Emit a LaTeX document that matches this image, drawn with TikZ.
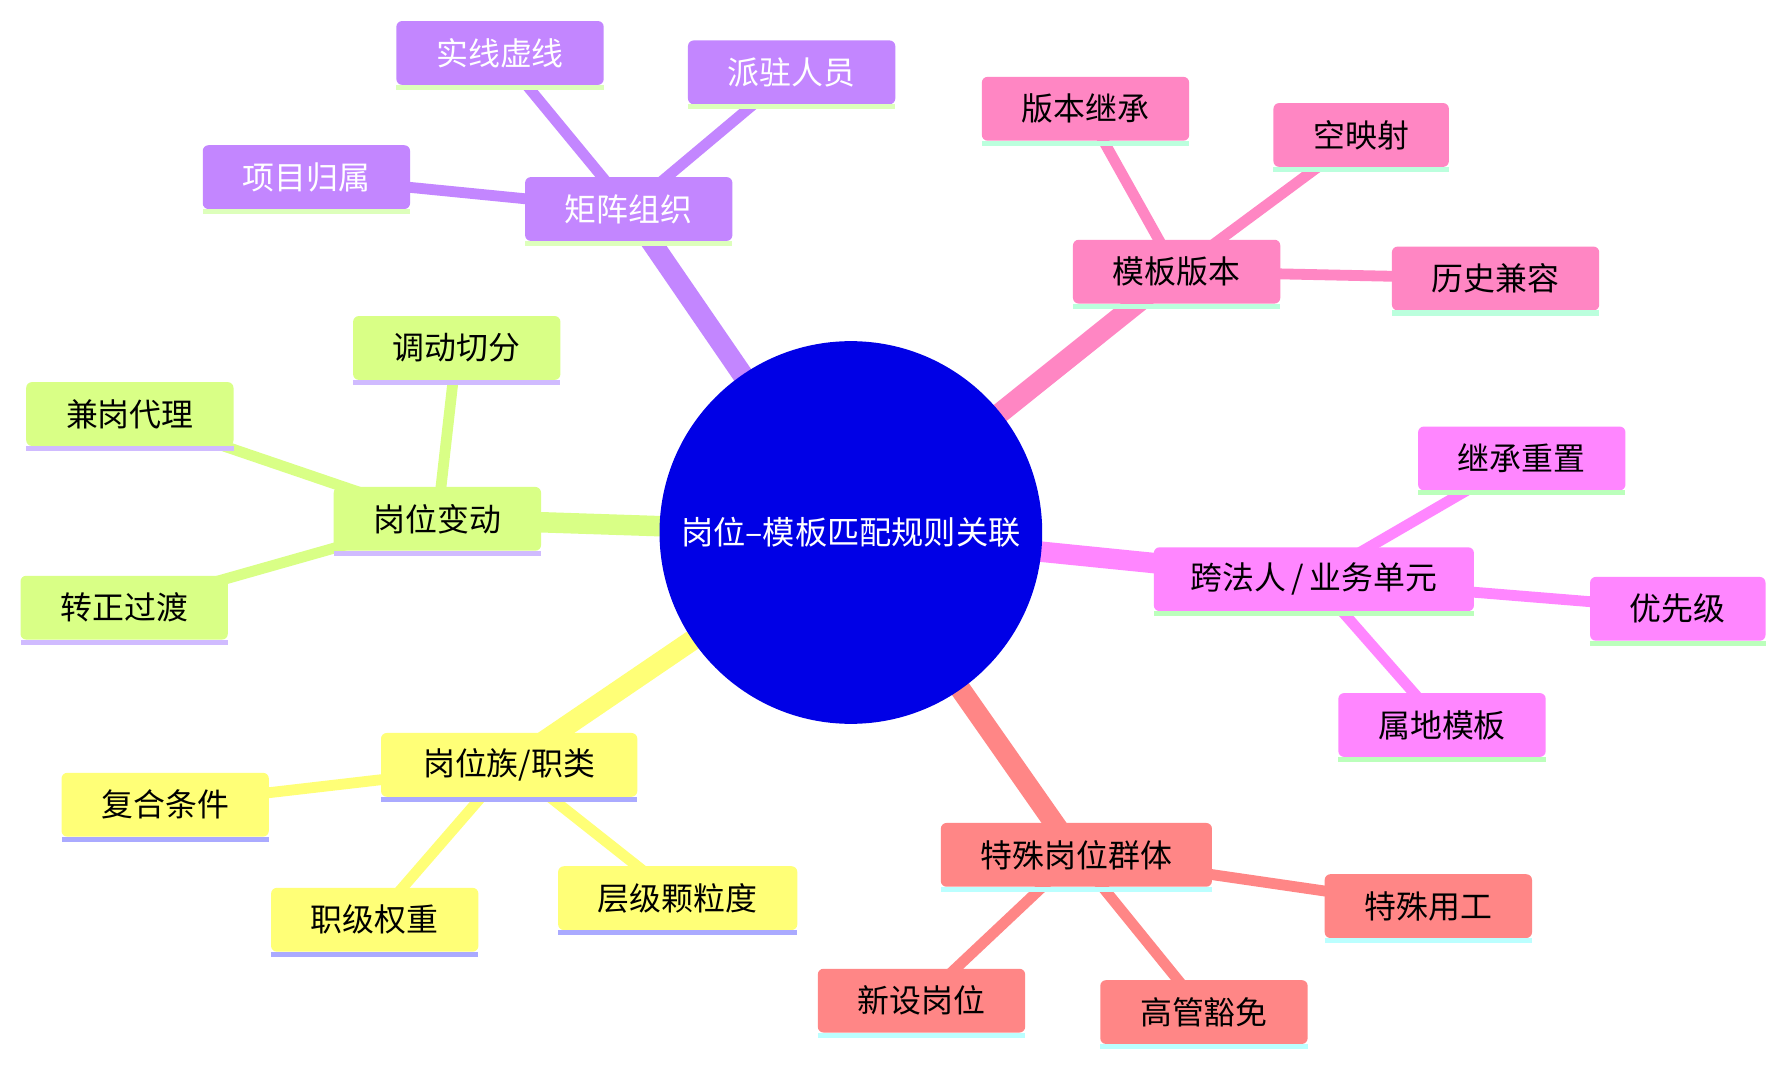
\documentclass[tikz,border=0pt]{standalone}
\usepackage{fontspec}
\setmainfont{Noto Sans CJK SC}
\usetikzlibrary{backgrounds}
\definecolor{croot}{HTML}{0000E6}
\definecolor{cpur}{HTML}{C386FF}
\definecolor{upur}{HTML}{DDFFBB}
\definecolor{cpnk}{HTML}{FF86C3}
\definecolor{upnk}{HTML}{BBFFDD}
\definecolor{cmag}{HTML}{FF86FF}
\definecolor{umag}{HTML}{BBFFBB}
\definecolor{csal}{HTML}{FF8686}
\definecolor{usal}{HTML}{BBFFFF}
\definecolor{cyel}{HTML}{FFFF77}
\definecolor{uyel}{HTML}{AAAAFF}
\definecolor{clim}{HTML}{D9FF86}
\definecolor{ulim}{HTML}{D0BBFF}
\tikzset{
  mmbox/.style={rounded corners=5pt, minimum height=56pt, minimum width=182pt,
    inner sep=0pt, outer sep=0pt, font=\fontsize{28}{32}\selectfont, text=black},
  rootedge/.style={line width=18pt},
  leafedge/.style={line width=9.5pt},
}
\newcommand\ul[2]{\fill[#2] (#1.south west) rectangle ([yshift=-4.5pt]#1.south east);}
\begin{document}
\begin{tikzpicture}[x=1pt,y=-1pt]
\useasboundingbox (0,0) rectangle (1568,936);
% root
\node[circle, fill=croot, minimum size=336pt, inner sep=0pt, text=white,
  font=\fontsize{28.3}{32}\selectfont] (root) at (747,467.5) {岗位–模板匹配规则关联};
% purple
\node[mmbox, fill=cpur, text=white] (mz) at (552,183.5) {矩阵组织};
\node[mmbox, fill=cpur, text=white] (xm) at (269,155.5) {项目归属};
\node[mmbox, fill=cpur, text=white] (sx) at (439,46.5) {实线虚线};
\node[mmbox, fill=cpur, text=white] (pz) at (695,63.5) {派驻人员};
% pink
\node[mmbox, fill=cpnk] (mb) at (1033,238.5) {模板版本};
\node[mmbox, fill=cpnk] (bj) at (953,95.5) {版本继承};
\node[mmbox, fill=cpnk, minimum width=154pt] (ky) at (1195,118.5) {空映射};
\node[mmbox, fill=cpnk] (ls) at (1313,244.5) {历史兼容};
% magenta
\node[mmbox, fill=cmag, minimum width=281pt] (kf) at (1153.5,508.5) {跨法人\,/\,业务单元};
\node[mmbox, fill=cmag] (jc) at (1336,402.5) {继承重置};
\node[mmbox, fill=cmag, minimum width=154pt] (yx) at (1473,534.5) {优先级};
\node[mmbox, fill=cmag] (sd) at (1266,636.5) {属地模板};
% salmon
\node[mmbox, fill=csal, minimum width=238pt] (ts) at (945,750.5) {特殊岗位群体};
\node[mmbox, fill=csal] (ty) at (1254,795.5) {特殊用工};
\node[mmbox, fill=csal] (xs) at (809,878.5) {新设岗位};
\node[mmbox, fill=csal] (gg) at (1057,888.5) {高管豁免};
% yellow
\node[mmbox, fill=cyel, minimum width=225pt] (gz) at (447,671.5) {岗位族/职类};
\node[mmbox, fill=cyel] (fh) at (145,706.5) {复合条件};
\node[mmbox, fill=cyel] (zj) at (329,807.5) {职级权重};
\node[mmbox, fill=cyel, minimum width=210pt] (cj) at (595,788.5) {层级颗粒度};
% lime
\node[mmbox, fill=clim] (gb) at (384,455.5) {岗位变动};
\node[mmbox, fill=clim] (dd) at (401,305.5) {调动切分};
\node[mmbox, fill=clim] (jg) at (114,363.5) {兼岗代理};
\node[mmbox, fill=clim] (zz) at (109,533.5) {转正过渡};
% underlines
\ul{mz}{upur}\ul{xm}{upur}\ul{sx}{upur}\ul{pz}{upur}
\ul{mb}{upnk}\ul{bj}{upnk}\ul{ky}{upnk}\ul{ls}{upnk}
\ul{kf}{umag}\ul{jc}{umag}\ul{yx}{umag}\ul{sd}{umag}
\ul{ts}{usal}\ul{ty}{usal}\ul{xs}{usal}\ul{gg}{usal}
\ul{gz}{uyel}\ul{fh}{uyel}\ul{zj}{uyel}\ul{cj}{uyel}
\ul{gb}{ulim}\ul{dd}{ulim}\ul{jg}{ulim}\ul{zz}{ulim}
% edges
\begin{scope}[on background layer]
\fill[white] (0,0) rectangle (1568,936);
\draw[rootedge, cpur] (root.center) -- (mz.center);
\draw[rootedge, cpnk] (root.center) -- (mb.center);
\draw[rootedge, cmag] (root.center) -- (kf.center);
\draw[rootedge, csal] (root.center) -- (ts.center);
\draw[rootedge, cyel] (root.center) -- (gz.center);
\draw[rootedge, clim] (root.center) -- (gb.center);
\draw[leafedge, cpur] (mz.center) -- (xm.center);
\draw[leafedge, cpur] (mz.center) -- (sx.center);
\draw[leafedge, cpur] (mz.center) -- (pz.center);
\draw[leafedge, cpnk] (mb.center) -- (bj.center);
\draw[leafedge, cpnk] (mb.center) -- (ky.center);
\draw[leafedge, cpnk] (mb.center) -- (ls.center);
\draw[leafedge, cmag] (kf.center) -- (jc.center);
\draw[leafedge, cmag] (kf.center) -- (yx.center);
\draw[leafedge, cmag] (kf.center) -- (sd.center);
\draw[leafedge, csal] (ts.center) -- (ty.center);
\draw[leafedge, csal] (ts.center) -- (xs.center);
\draw[leafedge, csal] (ts.center) -- (gg.center);
\draw[leafedge, cyel] (gz.center) -- (fh.center);
\draw[leafedge, cyel] (gz.center) -- (zj.center);
\draw[leafedge, cyel] (gz.center) -- (cj.center);
\draw[leafedge, clim] (gb.center) -- (dd.center);
\draw[leafedge, clim] (gb.center) -- (jg.center);
\draw[leafedge, clim] (gb.center) -- (zz.center);
\end{scope}
\end{tikzpicture}
\end{document}
